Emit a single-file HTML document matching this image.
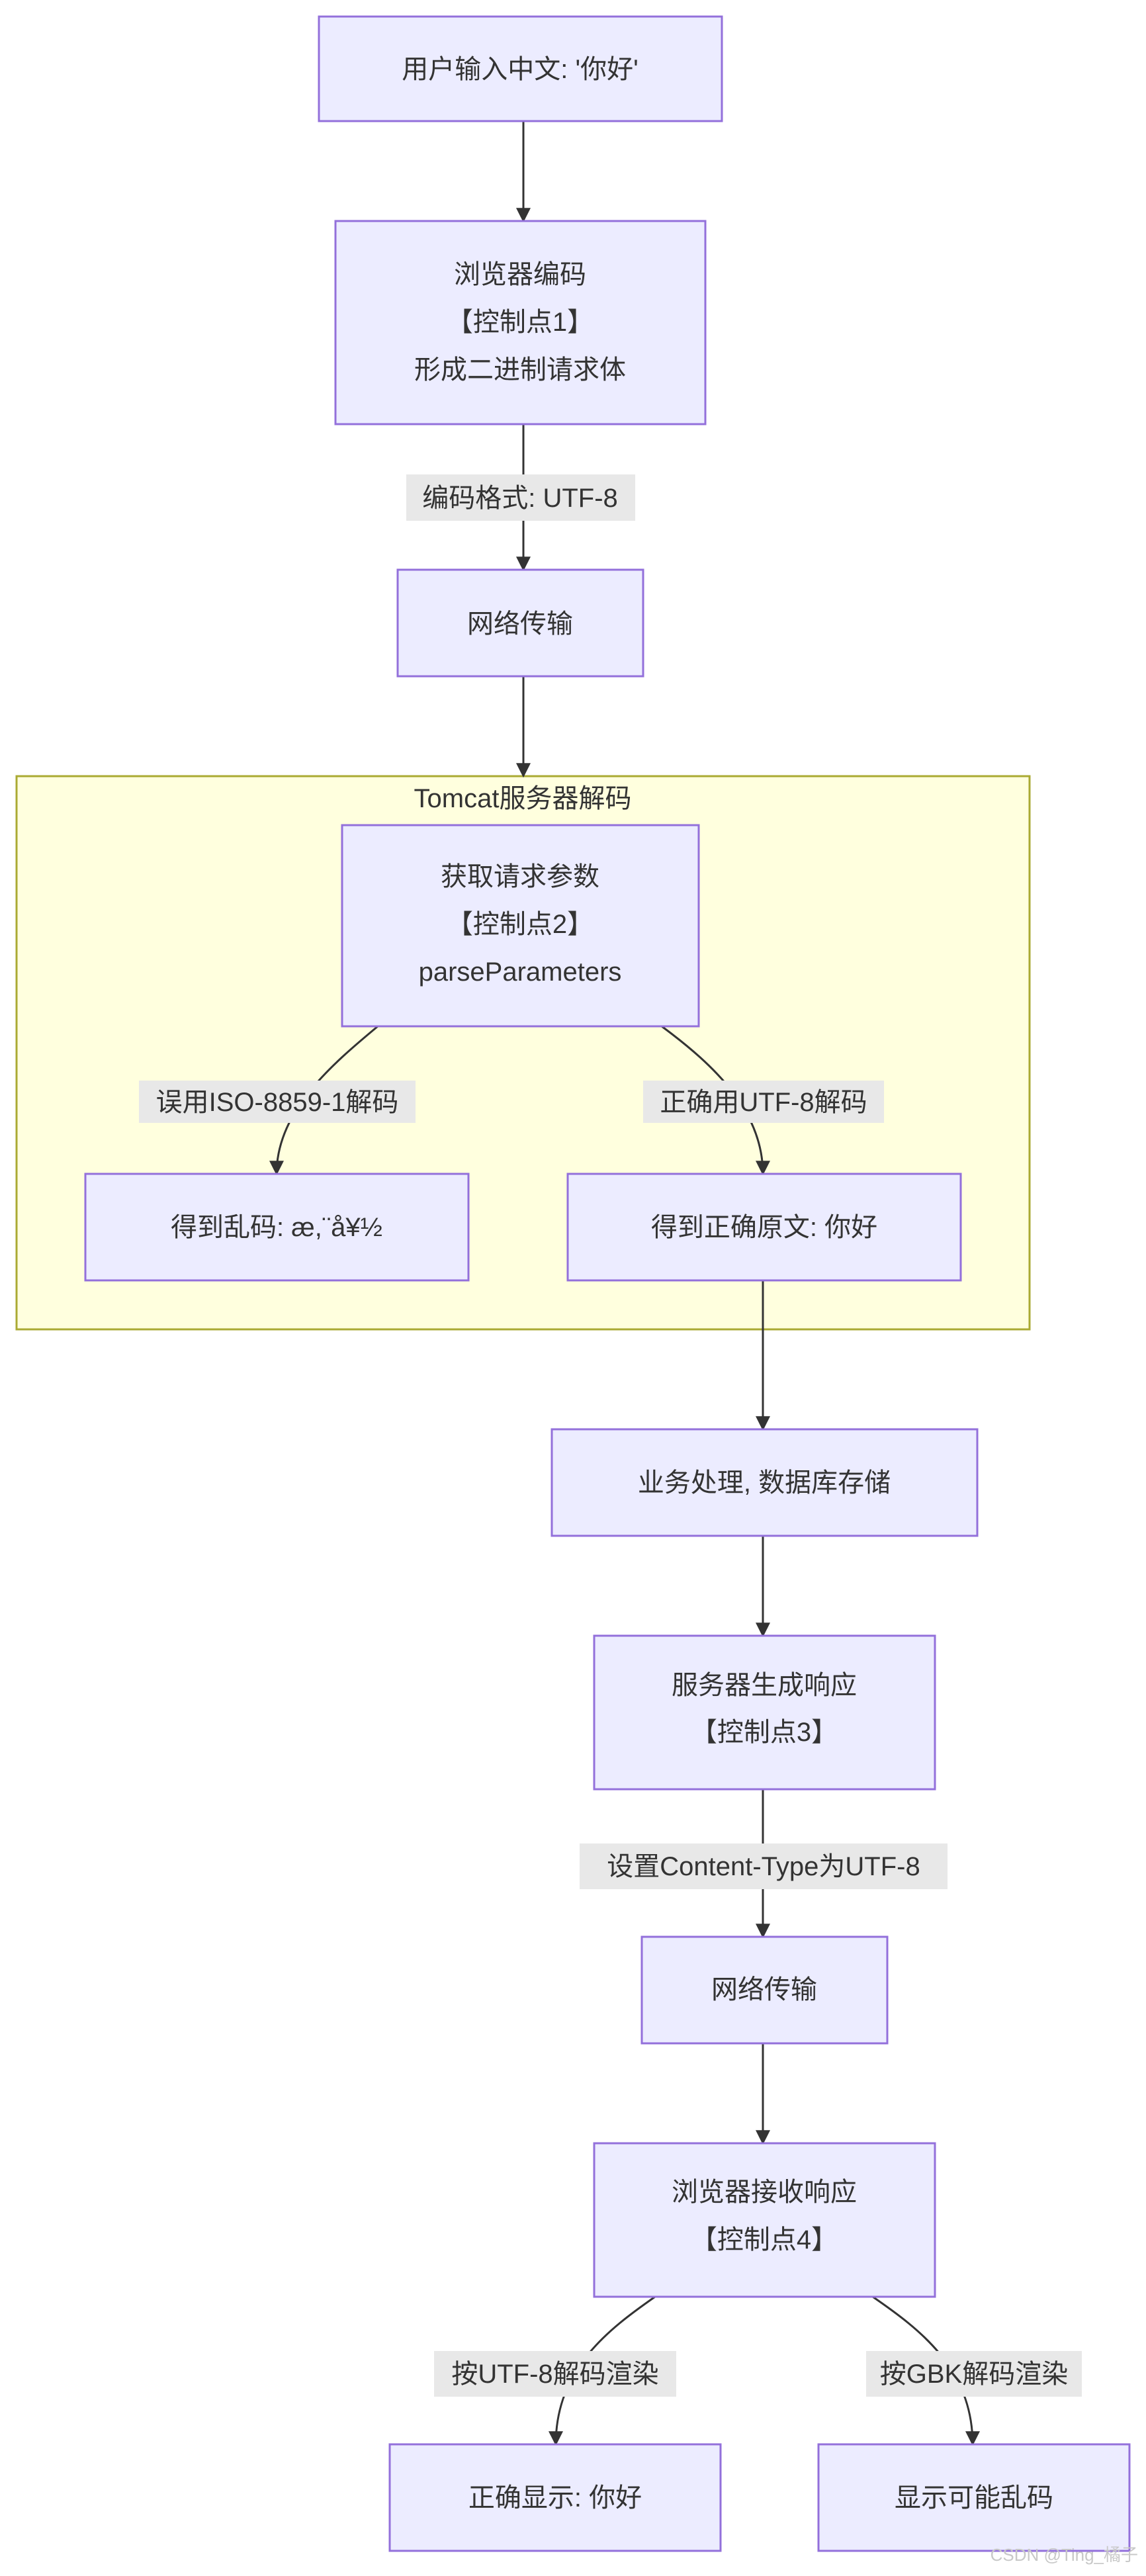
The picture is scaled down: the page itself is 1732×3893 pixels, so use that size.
<!DOCTYPE html>
<html><head><meta charset="utf-8"><style>
html,body{margin:0;padding:0;background:#fff}
svg text{font-family:"Liberation Sans","Noto Sans CJK SC",sans-serif;fill:#333;font-size:40px}
</style></head><body>
<svg width="1732" height="3888" viewBox="0 0 1732 3888" xmlns="http://www.w3.org/2000/svg">
<defs><marker id="a" viewBox="0 0 10 10" refX="9" refY="5" markerWidth="22" markerHeight="22" markerUnits="userSpaceOnUse" orient="auto"><path d="M0,0L10,5L0,10z" fill="#333"/></marker></defs>
<rect x="25" y="1173" width="1531" height="836" fill="#ffffde" stroke="#aaaa33" stroke-width="3"/>
<g fill="none" stroke="#333" stroke-width="3">
<path d="M791,183V334" marker-end="url(#a)"/>
<path d="M791,641V861" marker-end="url(#a)"/>
<path d="M791,1022V1173" marker-end="url(#a)"/>
<path d="M571,1551C500,1610 418,1680 418,1774" marker-end="url(#a)"/>
<path d="M1000,1551C1080,1610 1153,1680 1153,1774" marker-end="url(#a)"/>
<path d="M1153,1935V2160" marker-end="url(#a)"/>
<path d="M1153,2321V2472" marker-end="url(#a)"/>
<path d="M1153,2704V2927" marker-end="url(#a)"/>
<path d="M1153,3088V3239" marker-end="url(#a)"/>
<path d="M990,3471C920,3520 840,3580 840,3694" marker-end="url(#a)"/>
<path d="M1319,3471C1390,3520 1470,3580 1470,3694" marker-end="url(#a)"/>
</g>
<g fill="#ececff" stroke="#9370db" stroke-width="3">
<rect x="482" y="25" width="609" height="158"/>
<rect x="507" y="334" width="559" height="307"/>
<rect x="601" y="861" width="371" height="161"/>
<rect x="517" y="1247" width="539" height="304"/>
<rect x="129" y="1774" width="579" height="161"/>
<rect x="858" y="1774" width="594" height="161"/>
<rect x="834" y="2160" width="643" height="161"/>
<rect x="898" y="2472" width="515" height="232"/>
<rect x="970" y="2927" width="371" height="161"/>
<rect x="898" y="3239" width="515" height="232"/>
<rect x="589" y="3694" width="500" height="161"/>
<rect x="1237" y="3694" width="470" height="161"/>
</g>
<g fill="#e8e8e8">
<rect x="614" y="717" width="346" height="70"/>
<rect x="210" y="1633" width="418" height="64"/>
<rect x="972" y="1633" width="364" height="64"/>
<rect x="876" y="2786" width="556" height="69"/>
<rect x="656" y="3553" width="366" height="69"/>
<rect x="1309" y="3553" width="326" height="69"/>
</g>
<g text-anchor="middle">
<text x="786" y="118">用户输入中文: '你好'</text>
<text x="786" y="428">浏览器编码</text>
<text x="786" y="500">【控制点1】</text>
<text x="786" y="572">形成二进制请求体</text>
<text x="786" y="766">编码格式: UTF-8</text>
<text x="786" y="956">网络传输</text>
<text x="790" y="1220">Tomcat服务器解码</text>
<text x="786" y="1338">获取请求参数</text>
<text x="786" y="1410">【控制点2】</text>
<text x="786" y="1482">parseParameters</text>
<text x="419" y="1679">误用ISO-8859-1解码</text>
<text x="1154" y="1679">正确用UTF-8解码</text>
<text x="418" y="1868">得到乱码: æ,¨å¥½</text>
<text x="1155" y="1868">得到正确原文: 你好</text>
<text x="1155" y="2254">业务处理, 数据库存储</text>
<text x="1155" y="2560">服务器生成响应</text>
<text x="1155" y="2631">【控制点3】</text>
<text x="1154" y="2834">设置Content-Type为UTF-8</text>
<text x="1155" y="3020">网络传输</text>
<text x="1155" y="3326">浏览器接收响应</text>
<text x="1155" y="3398">【控制点4】</text>
<text x="839" y="3601">按UTF-8解码渲染</text>
<text x="1472" y="3601">按GBK解码渲染</text>
<text x="839" y="3788">正确显示: 你好</text>
<text x="1472" y="3788">显示可能乱码</text>
</g>
<text x="1720" y="3870" text-anchor="end" style="font-size:26px;fill:#c8c8c8">CSDN @Ting_橘子</text>
</svg>
</body></html>
